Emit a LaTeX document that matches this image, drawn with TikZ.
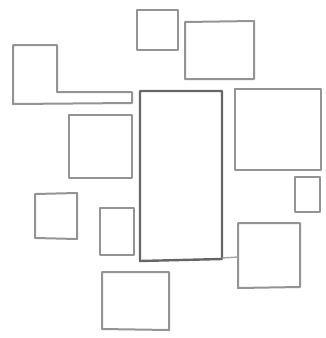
\documentclass[tikz,border=0pt]{standalone}
\begin{document}
\begin{tikzpicture}[x=1pt,y=-1pt,
  pencil/.style={draw=black!42,line width=2pt,line join=round},
  dark/.style={draw=black!60,line width=2.4pt,line join=round},
  faint/.style={draw=black!35,line width=1.4pt}]
\useasboundingbox[fill=white] (0,0) rectangle (325,338);
% top small square
\draw[pencil] (137,10) rectangle (178,50);
% top right rect
\draw[pencil] (185,22) -- (254,21) -- (254,79) -- (185,79) -- cycle;
% L-shape
\draw[pencil] (13,45) -- (57,45) -- (57,92) -- (132,92) -- (132,103) -- (13,104) -- cycle;
% center big rect
\draw[dark] (140,91) -- (222,91) -- (222,259) -- (140,261) -- cycle;
% right big rect
\draw[pencil] (235,89) -- (321,89) -- (321,170) -- (235,170) -- cycle;
% middle left rect
\draw[pencil] (69,115) -- (132,115) -- (132,178) -- (69,178) -- cycle;
% small right rect
\draw[pencil] (295,177) rectangle (320,212);
% left small square
\draw[pencil] (35,194) -- (77,193) -- (77,239) -- (35,238) -- cycle;
% small rect next to center
\draw[pencil] (100,208) rectangle (134,255);
% bottom rect
\draw[pencil] (102,272) -- (169,272) -- (169,330) -- (102,329) -- cycle;
% right lower rect
\draw[pencil] (238,223) -- (300,223) -- (300,287) -- (238,288) -- cycle;
% short joining stroke
\coordinate (c1) at (222,258);
\coordinate (c2) at (238,257);
\draw[faint] (c1) -- (c2);
\end{tikzpicture}
\end{document}
